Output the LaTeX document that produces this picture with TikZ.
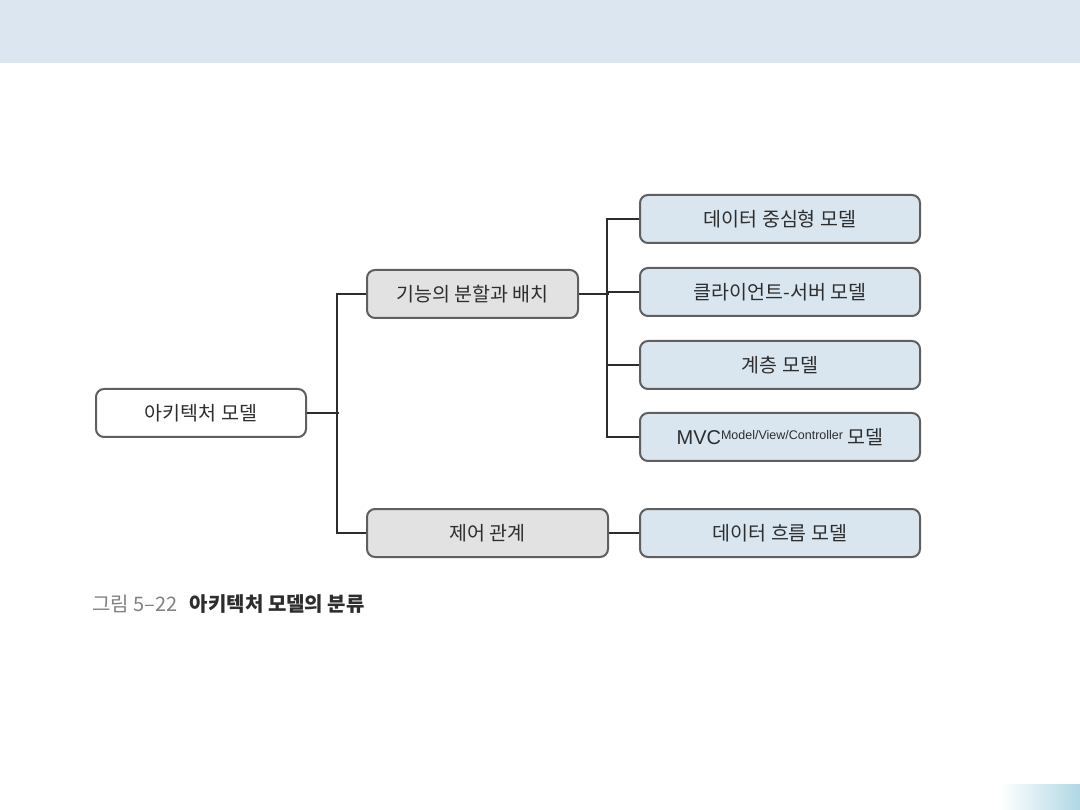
\documentclass[tikz,border=0pt]{standalone}
\usepackage{fontspec}
\setmainfont{Noto Sans CJK KR}
\newfontfamily\latinfont{Liberation Sans}
\definecolor{bandblue}{RGB}{220,230,241}
\definecolor{leafblue}{RGB}{217,230,240}
\definecolor{midgray}{RGB}{226,226,226}
\definecolor{edgegray}{RGB}{95,95,95}
\definecolor{inkgray}{RGB}{45,45,45}
\definecolor{tealfade}{RGB}{176,216,228}
\tikzset{
  box/.style={draw=edgegray,line width=2pt,rounded corners=8pt,minimum height=48pt,
    inner sep=0pt,text=inkgray,font=\fontsize{19.5}{22}\selectfont},
  rootbox/.style={box,fill=white,minimum width=210pt},
  midbox/.style={box,fill=midgray},
  leafbox/.style={box,fill=leafblue,minimum width=280pt},
  link/.style={draw=inkgray,line width=1.4pt}
}
\begin{document}
\begin{tikzpicture}[x=1pt,y=-1pt]
  \useasboundingbox (0,0) rectangle (1080,810);
  \fill[bandblue] (0,0) rectangle (1080,63);
  \shade[left color=white,right color=tealfade] (1000,784) rectangle (1080,810);

  % 노드
  \node[rootbox] (root) at (201,413) {아키텍처 모델};
  \node[midbox,minimum width=211pt] (func) at (472.5,294) {기능의 분할과 배치};
  \node[midbox,minimum width=241pt] (ctrl) at (487.5,533) {제어 관계};
  \node[leafbox] (data) at (780,219) {데이터 중심형 모델};
  \node[leafbox] (cs) at (780,292) {클라이언트-서버 모델};
  \node[leafbox] (layer) at (780,365) {계층 모델};
  \node[leafbox] (mvc) at (780,437) {{\latinfont\fontsize{20}{22}\selectfont MVC\raisebox{0.5ex}{\fontsize{12.5}{13}\selectfont Model/View/Controller}} 모델};
  \node[leafbox] (flow) at (780,533) {데이터 흐름 모델};

  % 연결선
  \draw[link] (root.east) -- ++(32,0);
  \draw[link] (func.west) -- ++(-29,0) |- (ctrl.west);
  \draw[link] (func.east) -- ++(30,0);
  \draw[link] (data.west) -- ++(-32,0) |- (mvc.west);
  \foreach \n in {cs,layer}
    \draw[link] (\n.west) -- ++(-32,0);
  \draw[link] (ctrl.east) -- (flow.west);

  % 캡션
  \node[anchor=west,text=gray,font=\fontsize{20}{22}\selectfont,inner xsep=0pt] (capnum) at (92,604) {그림 5–22};
  \node[anchor=west,text=inkgray,font=\fontsize{20}{22}\selectfont\bfseries,inner xsep=0pt] (captext) at ([xshift=12pt]capnum.east) {아키텍처 모델의 분류};
\end{tikzpicture}
\end{document}
